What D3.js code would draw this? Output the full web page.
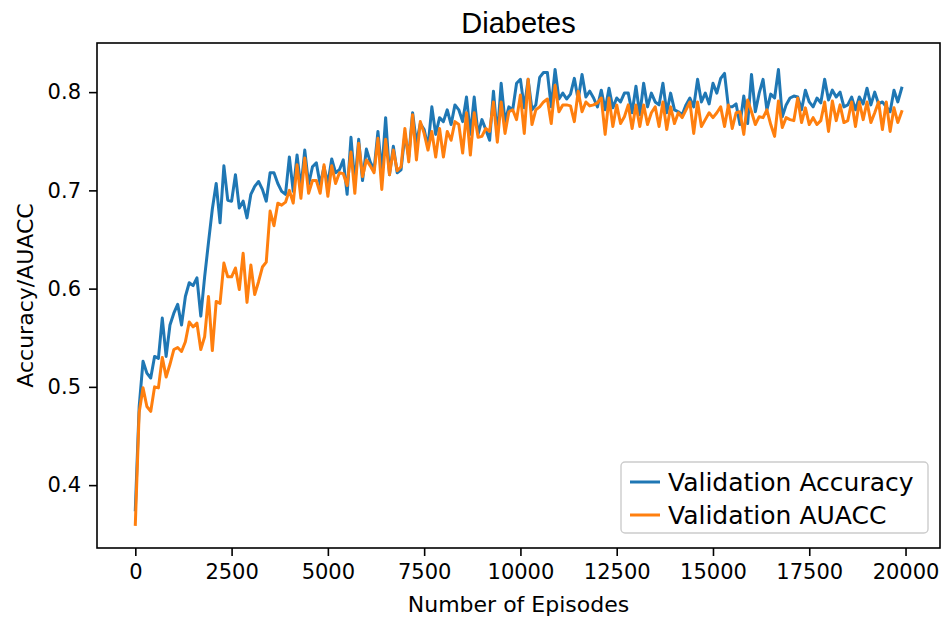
<!DOCTYPE html>
<html>
<head>
<meta charset="utf-8">
<script src="https://cdn.jsdelivr.net/npm/d3@7"></script>
<style>
  body { margin: 0; background: #ffffff; }
  svg { display: block; }
</style>
</head>
<body>
<svg id="chart" width="950" height="622"></svg>
<script>
// Episodes at which validation was run (every 100 episodes)
const episodes = d3.range(0, 20000, 100);

// Validation accuracy per evaluation
const accuracy = [
  0.375, 0.480, 0.526, 0.514, 0.509, 0.531, 0.529, 0.570, 0.531, 0.563,
  0.575, 0.584, 0.563, 0.592, 0.606, 0.603, 0.611, 0.572, 0.612, 0.647,
  0.681, 0.707, 0.667, 0.725, 0.690, 0.689, 0.716, 0.682, 0.689, 0.672,
  0.696, 0.704, 0.709, 0.701, 0.689, 0.718, 0.718, 0.707, 0.699, 0.696,
  0.734, 0.699, 0.736, 0.702, 0.741, 0.706, 0.724, 0.728, 0.706, 0.724,
  0.707, 0.732, 0.718, 0.721, 0.731, 0.696, 0.754, 0.707, 0.752, 0.710,
  0.742, 0.729, 0.721, 0.760, 0.718, 0.774, 0.716, 0.745, 0.718, 0.721,
  0.757, 0.734, 0.779, 0.748, 0.768, 0.762, 0.744, 0.785, 0.757, 0.774,
  0.770, 0.782, 0.767, 0.787, 0.782, 0.770, 0.795, 0.757, 0.795, 0.757,
  0.772, 0.762, 0.751, 0.801, 0.755, 0.809, 0.770, 0.785, 0.782, 0.809,
  0.813, 0.784, 0.813, 0.782, 0.787, 0.815, 0.820, 0.820, 0.785, 0.823,
  0.793, 0.799, 0.793, 0.798, 0.814, 0.792, 0.818, 0.795, 0.801, 0.794,
  0.785, 0.802, 0.782, 0.804, 0.784, 0.794, 0.790, 0.799, 0.799, 0.779,
  0.806, 0.777, 0.809, 0.785, 0.799, 0.790, 0.787, 0.809, 0.779, 0.799,
  0.782, 0.780, 0.777, 0.787, 0.794, 0.785, 0.813, 0.790, 0.799, 0.788,
  0.809, 0.799, 0.814, 0.819, 0.785, 0.785, 0.788, 0.767, 0.796, 0.768,
  0.818, 0.780, 0.799, 0.813, 0.782, 0.798, 0.794, 0.823, 0.775, 0.787,
  0.794, 0.796, 0.795, 0.782, 0.802, 0.790, 0.785, 0.794, 0.789, 0.813,
  0.792, 0.802, 0.795, 0.800, 0.785, 0.787, 0.795, 0.782, 0.795, 0.788,
  0.804, 0.787, 0.800, 0.788, 0.790, 0.785, 0.780, 0.802, 0.790, 0.804
];

// Validation AUACC per evaluation
const auacc = [
  0.360, 0.474, 0.499, 0.480, 0.475, 0.500, 0.499, 0.530, 0.510, 0.523,
  0.538, 0.540, 0.536, 0.546, 0.566, 0.561, 0.565, 0.538, 0.551, 0.592,
  0.537, 0.587, 0.585, 0.626, 0.612, 0.612, 0.621, 0.599, 0.636, 0.586,
  0.624, 0.594, 0.607, 0.622, 0.627, 0.679, 0.664, 0.687, 0.685, 0.688,
  0.700, 0.687, 0.726, 0.692, 0.733, 0.697, 0.710, 0.710, 0.697, 0.726,
  0.694, 0.725, 0.707, 0.718, 0.717, 0.705, 0.739, 0.697, 0.748, 0.714,
  0.731, 0.725, 0.718, 0.753, 0.701, 0.752, 0.716, 0.741, 0.720, 0.724,
  0.763, 0.729, 0.777, 0.731, 0.770, 0.758, 0.741, 0.760, 0.734, 0.763,
  0.734, 0.760, 0.751, 0.770, 0.767, 0.738, 0.779, 0.736, 0.779, 0.754,
  0.755, 0.763, 0.760, 0.790, 0.749, 0.790, 0.758, 0.780, 0.782, 0.772,
  0.797, 0.758, 0.813, 0.767, 0.782, 0.785, 0.790, 0.793, 0.768, 0.807,
  0.780, 0.787, 0.787, 0.786, 0.770, 0.801, 0.780, 0.790, 0.786, 0.787,
  0.789, 0.794, 0.757, 0.794, 0.765, 0.787, 0.768, 0.775, 0.787, 0.763,
  0.787, 0.765, 0.787, 0.767, 0.779, 0.785, 0.765, 0.790, 0.762, 0.785,
  0.768, 0.779, 0.774, 0.782, 0.790, 0.758, 0.790, 0.765, 0.772, 0.779,
  0.774, 0.779, 0.785, 0.765, 0.787, 0.763, 0.779, 0.780, 0.757, 0.792,
  0.780, 0.767, 0.775, 0.774, 0.782, 0.767, 0.755, 0.791, 0.764, 0.774,
  0.772, 0.771, 0.794, 0.769, 0.784, 0.767, 0.774, 0.767, 0.771, 0.790,
  0.760, 0.791, 0.771, 0.787, 0.769, 0.771, 0.790, 0.765, 0.790, 0.772,
  0.790, 0.769, 0.779, 0.790, 0.762, 0.790, 0.760, 0.784, 0.769, 0.780
];

const xTicks = [0, 2500, 5000, 7500, 10000, 12500, 15000, 17500, 20000];
const yTicks = [0.4, 0.5, 0.6, 0.7, 0.8];
const seriesNames = ["Validation Accuracy", "Validation AUACC"];
const seriesColors = ["#1f77b4", "#ff7f0e"];
const titleText = "Diabetes";
const xLabelText = "Number of Episodes";
const yLabelText = "Accuracy/AUACC";

const series = [accuracy, auacc].map((vals, k) => ({
  name: seriesNames[k],
  color: seriesColors[k],
  points: vals.map((v, i) => ({ x: episodes[i], y: v }))
}));

const svg = d3.select("#chart");
const plot = { left: 97, right: 940, top: 43, bottom: 548 };
const tickFont = "'DejaVu Sans', sans-serif";

const x = d3.scaleLinear().domain([-995, 20895]).range([plot.left, plot.right]);
const y = d3.scaleLinear().domain([0.336, 0.850]).range([plot.bottom, plot.top]);

// Data lines
const line = d3.line().x(d => x(d.x)).y(d => y(d.y));
svg.append("g")
  .selectAll("path")
  .data(series)
  .join("path")
  .attr("fill", "none")
  .attr("stroke", d => d.color)
  .attr("stroke-width", 3)
  .attr("stroke-linejoin", "round")
  .attr("stroke-linecap", "square")
  .attr("d", d => line(d.points));

// Axes
const xAxis = d3.axisBottom(x).tickValues(xTicks).tickFormat(d3.format("d"))
  .tickSizeInner(8).tickSizeOuter(0).tickPadding(8);
const yAxis = d3.axisLeft(y).tickValues(yTicks).tickFormat(d3.format(".1f"))
  .tickSizeInner(8).tickSizeOuter(0).tickPadding(8);

const gx = svg.append("g").attr("transform", `translate(0,${plot.bottom})`).call(xAxis);
const gy = svg.append("g").attr("transform", `translate(${plot.left},0)`).call(yAxis);
[gx, gy].forEach(g => {
  g.select(".domain").remove();
  g.selectAll(".tick line").attr("stroke", "#000").attr("stroke-width", 1.6);
  g.selectAll(".tick text")
    .attr("fill", "#000")
    .style("font-family", tickFont)
    .style("font-size", "21px");
});

// Frame
svg.append("rect")
  .attr("x", plot.left).attr("y", plot.top)
  .attr("width", plot.right - plot.left).attr("height", plot.bottom - plot.top)
  .attr("fill", "none").attr("stroke", "#000").attr("stroke-width", 1.6);

// Title and axis labels
svg.append("text")
  .attr("x", (plot.left + plot.right) / 2).attr("y", 33)
  .attr("text-anchor", "middle")
  .style("font-family", "'Liberation Sans', Arial, sans-serif")
  .style("font-size", "29px")
  .text(titleText);

svg.append("text")
  .attr("x", (plot.left + plot.right) / 2).attr("y", 612)
  .attr("text-anchor", "middle")
  .style("font-family", tickFont)
  .style("font-size", "22px")
  .text(xLabelText);

svg.append("text")
  .attr("transform", `translate(33,${(plot.top + plot.bottom) / 2}) rotate(-90)`)
  .attr("text-anchor", "middle")
  .style("font-family", tickFont)
  .style("font-size", "22px")
  .text(yLabelText);

// Legend
const legend = svg.append("g").attr("transform", "translate(621,462)");
legend.append("rect")
  .attr("width", 307).attr("height", 71).attr("rx", 4)
  .attr("fill", "#fff").attr("fill-opacity", 0.8)
  .attr("stroke", "#cccccc").attr("stroke-width", 1.4);
const items = legend.selectAll("g.item").data(series).join("g")
  .attr("class", "item")
  .attr("transform", (d, i) => `translate(0,${20 + i * 33})`);
items.append("line")
  .attr("x1", 9).attr("x2", 39)
  .attr("stroke", d => d.color).attr("stroke-width", 3);
items.append("text")
  .attr("x", 47).attr("dy", "0.35em")
  .style("font-family", tickFont)
  .style("font-size", "25px")
  .text(d => d.name);
</script>
</body>
</html>
